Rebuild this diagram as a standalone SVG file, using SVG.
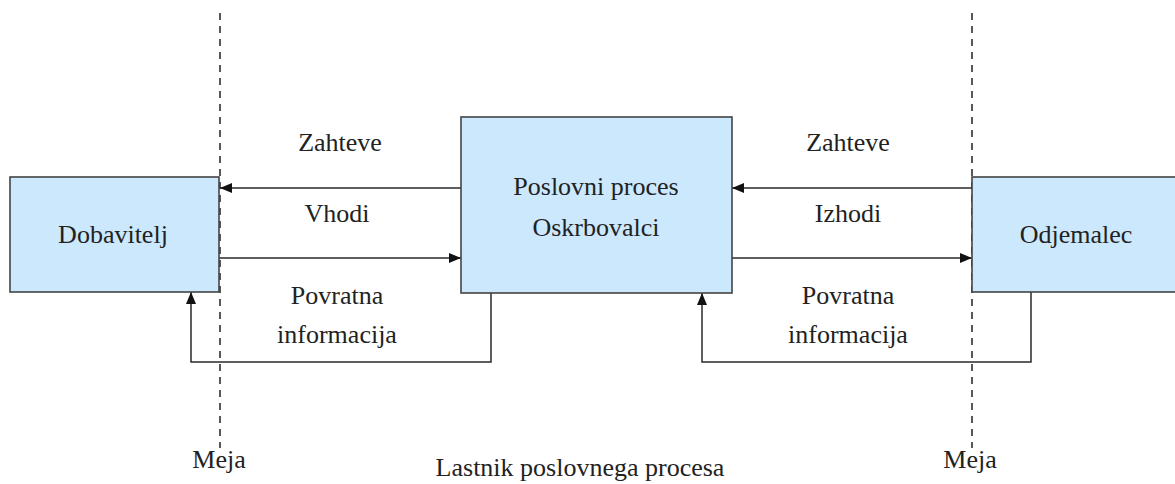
<svg xmlns="http://www.w3.org/2000/svg" width="1175" height="484" viewBox="0 0 1175 484">
<style>
.box{fill:#cce8fd;stroke:#444;stroke-width:1.6}
.ln{fill:none;stroke:#2a2a2a;stroke-width:1.5}
.dash{fill:none;stroke:#222;stroke-width:1.5;stroke-dasharray:7 6}
text{font-family:"Liberation Serif","Times New Roman",serif;font-size:26px;fill:#222;text-anchor:middle}
</style>
<defs>
<marker id="ah" viewBox="0 0 12 10" refX="12" refY="5" markerWidth="12" markerHeight="10" markerUnits="userSpaceOnUse" orient="auto">
<path d="M0,0 L12,5 L0,10 Z" fill="#111"/>
</marker>
</defs>
<rect width="1175" height="484" fill="#fff"/>
<g id="boundaries">
<line class="dash" x1="220" y1="13" x2="220" y2="448"/>
<line class="dash" x1="972" y1="13" x2="972" y2="448"/>
</g>
<g id="connectors">
<line class="ln" x1="461" y1="188" x2="220" y2="188" marker-end="url(#ah)"/>
<line class="ln" x1="219" y1="258" x2="461" y2="258" marker-end="url(#ah)"/>
<line class="ln" x1="972" y1="188" x2="732" y2="188" marker-end="url(#ah)"/>
<line class="ln" x1="732" y1="258" x2="972" y2="258" marker-end="url(#ah)"/>
<polyline class="ln" points="491,293 491,362 191,362 191,292" marker-end="url(#ah)"/>
<polyline class="ln" points="1031,292 1031,362 702,362 702,293" marker-end="url(#ah)"/>
</g>
<g id="dobavitelj">
<rect class="box" x="10" y="177" width="209" height="115"/>
<text x="113" y="243">Dobavitelj</text>
</g>
<g id="proces">
<rect class="box" x="461" y="117" width="271" height="176"/>
<text x="596" y="195">Poslovni proces</text>
<text x="596" y="236">Oskrbovalci</text>
</g>
<g id="odjemalec">
<rect class="box" x="972" y="177" width="215" height="115"/>
<text x="1076" y="243">Odjemalec</text>
</g>
<g id="labels">
<text x="340" y="151">Zahteve</text>
<text x="337" y="222">Vhodi</text>
<text x="848" y="151">Zahteve</text>
<text x="848" y="222">Izhodi</text>
<text x="337" y="304">Povratna</text>
<text x="337" y="343">informacija</text>
<text x="848" y="304">Povratna</text>
<text x="848" y="343">informacija</text>
<text x="219" y="468">Meja</text>
<text x="970" y="468">Meja</text>
<text x="580" y="476">Lastnik poslovnega procesa</text>
</g>
</svg>
